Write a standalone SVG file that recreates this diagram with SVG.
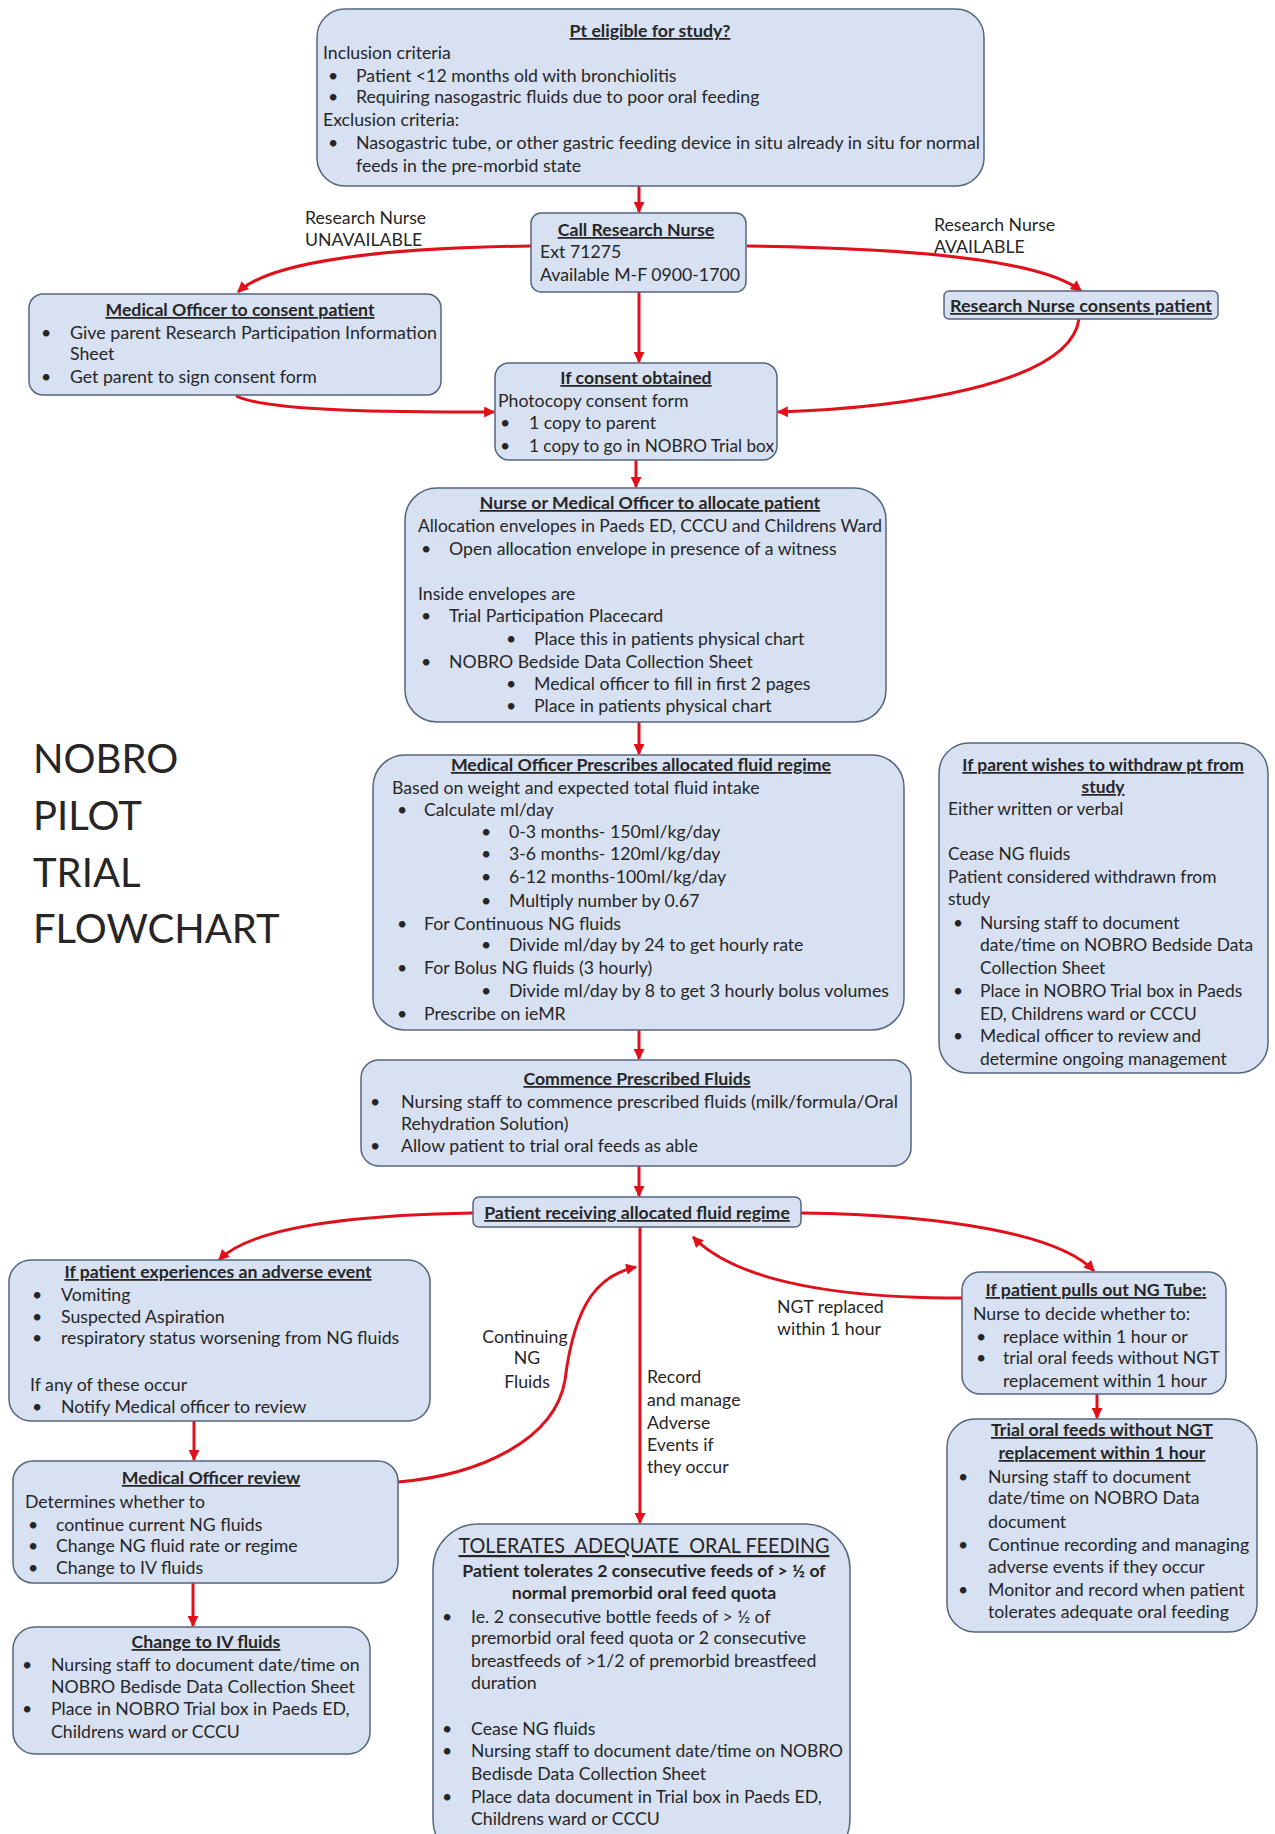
<svg xmlns="http://www.w3.org/2000/svg" width="1275" height="1834" viewBox="0 0 1275 1834">
<defs>
<marker id="ah" viewBox="0 0 10 10" refX="9" refY="5" markerWidth="13" markerHeight="11" markerUnits="userSpaceOnUse" orient="auto">
<path d="M0,0 L10,5 L0,10 z" fill="#e0111b"/>
</marker>
<style>
text{font-family:Lato,"Open Sans","Liberation Sans",sans-serif;font-size:17.7px;fill:#262626}
.h{font-weight:bold;text-decoration:underline;text-anchor:middle}
.m{text-anchor:middle}
.w text{font-size:17.4px}
.box{fill:#d7e1f2;stroke:#55667d;stroke-width:1.5}
.c{fill:none;stroke:#e0111b;stroke-width:3;marker-end:url(#ah)}
.big{font-size:40px}
</style>
</defs>
<rect width="1275" height="1834" fill="#ffffff"/>

<g id="connectors">
<path class="c" d="M639,186 L639,212"/>
<path class="c" d="M531,246 C380,248 270,262 238,292"/>
<path class="c" d="M747,246 C900,248 1040,258 1081,291"/>
<path class="c" d="M639,292 L639,362"/>
<path class="c" d="M236,396 C270,412 400,412 494,412"/>
<path class="c" d="M1079,319 C1070,385 900,408 778,412"/>
<path class="c" d="M636,460 L636,487"/>
<path class="c" d="M639,722 L639,754"/>
<path class="c" d="M639,1030 L639,1059"/>
<path class="c" d="M639,1166 L639,1196"/>
<path class="c" d="M473,1213 C350,1215 250,1228 219,1260"/>
<path class="c" d="M801,1213 C950,1215 1060,1235 1094,1271"/>
<path class="c" d="M962,1298 C850,1298 740,1285 693,1237"/>
<path class="c" d="M640,1227 L640,1523"/>
<path class="c" d="M194,1421 L194,1460"/>
<path class="c" d="M398,1482 C480,1475 555,1440 565,1380 C575,1300 600,1275 636,1267"/>
<path class="c" d="M193,1583 L193,1626"/>
<path class="c" d="M1097,1394 L1097,1418"/>
</g>

<g id="labels">
<text x="305" y="224">Research Nurse</text>
<text x="305" y="246">UNAVAILABLE</text>
<text x="934" y="231">Research Nurse</text>
<text x="934" y="253">AVAILABLE</text>
<text class="m" x="525" y="1343">Continuing</text>
<text class="m" x="527" y="1364">NG</text>
<text class="m" x="527" y="1388">Fluids</text>
<text x="647" y="1383">Record</text>
<text x="647" y="1406">and manage</text>
<text x="647" y="1429">Adverse</text>
<text x="647" y="1451">Events if</text>
<text x="647" y="1473">they occur</text>
<text x="777" y="1313">NGT replaced</text>
<text x="777" y="1335">within 1 hour</text>
</g>

<g id="title">
<text class="big" x="33" y="773">NOBRO</text>
<text class="big" x="33" y="830">PILOT</text>
<text class="big" x="33" y="887">TRIAL</text>
<text class="big" x="33" y="943">FLOWCHART</text>
</g>

<g id="eligible">
<rect class="box" x="317" y="9" width="667" height="177" rx="28"/>
<text class="h" x="650" y="37">Pt eligible for study?</text>
<text x="323" y="59">Inclusion criteria</text>
<text x="328" y="82">•</text><text x="356" y="82">Patient &lt;12 months old with bronchiolitis</text>
<text x="328" y="103">•</text><text x="356" y="103">Requiring nasogastric fluids due to poor oral feeding</text>
<text x="323" y="126">Exclusion criteria:</text>
<text x="328" y="149">•</text><text x="356" y="149" textLength="624" lengthAdjust="spacingAndGlyphs">Nasogastric tube, or other gastric feeding device in situ already in situ for normal</text>
<text x="356" y="172">feeds in the pre-morbid state</text>
</g>

<g id="call">
<rect class="box" x="531" y="213" width="215" height="79" rx="10"/>
<text class="h" x="636" y="236">Call Research Nurse</text>
<text x="540" y="258">Ext 71275</text>
<text x="540" y="281">Available M-F 0900-1700</text>
</g>

<g id="mo-consent">
<rect class="box" x="29" y="294" width="412" height="101" rx="14"/>
<text class="h" x="240" y="316">Medical Officer to consent patient</text>
<text x="41" y="339">•</text><text x="70" y="339" textLength="367" lengthAdjust="spacingAndGlyphs">Give parent Research Participation Information</text>
<text x="70" y="360">Sheet</text>
<text x="41" y="383">•</text><text x="70" y="383">Get parent to sign consent form</text>
</g>

<g id="rn-consent">
<rect class="box" x="944" y="291" width="274" height="28" rx="5"/>
<text class="h" x="1081" y="312" textLength="262" lengthAdjust="spacingAndGlyphs">Research Nurse consents patient</text>
</g>

<g id="consent">
<rect class="box" x="495" y="363" width="282" height="97" rx="14"/>
<text class="h" x="636" y="384">If consent obtained</text>
<text x="498" y="407">Photocopy consent form</text>
<text x="500" y="429">•</text><text x="529" y="429">1 copy to parent</text>
<text x="500" y="452">•</text><text x="529" y="452" textLength="245" lengthAdjust="spacingAndGlyphs">1 copy to go in NOBRO Trial box</text>
</g>

<g id="allocate">
<rect class="box" x="405" y="488" width="481" height="234" rx="32"/>
<text class="h" x="650" y="509">Nurse or Medical Officer to allocate patient</text>
<text x="418" y="532" textLength="464" lengthAdjust="spacingAndGlyphs">Allocation envelopes in Paeds ED, CCCU and Childrens Ward</text>
<text x="421" y="555">•</text><text x="449" y="555">Open allocation envelope in presence of a witness</text>
<text x="418" y="600">Inside envelopes are</text>
<text x="421" y="622">•</text><text x="449" y="622">Trial Participation Placecard</text>
<text x="506" y="645">•</text><text x="534" y="645">Place this in patients physical chart</text>
<text x="421" y="668">•</text><text x="449" y="668">NOBRO Bedside Data Collection Sheet</text>
<text x="506" y="690">•</text><text x="534" y="690">Medical officer to fill in first 2 pages</text>
<text x="506" y="712">•</text><text x="534" y="712">Place in patients physical chart</text>
</g>

<g id="prescribe">
<rect class="box" x="373" y="755" width="531" height="275" rx="32"/>
<text class="h" x="641" y="771">Medical Officer Prescribes allocated fluid regime</text>
<text x="392" y="794">Based on weight and expected total fluid intake</text>
<text x="397" y="816">•</text><text x="424" y="816">Calculate ml/day</text>
<text x="481" y="838">•</text><text x="509" y="838">0-3 months- 150ml/kg/day</text>
<text x="481" y="860">•</text><text x="509" y="860">3-6 months- 120ml/kg/day</text>
<text x="481" y="883">•</text><text x="509" y="883">6-12 months-100ml/kg/day</text>
<text x="481" y="907">•</text><text x="509" y="907">Multiply number by 0.67</text>
<text x="397" y="930">•</text><text x="424" y="930">For Continuous NG fluids</text>
<text x="481" y="951">•</text><text x="509" y="951">Divide ml/day by 24 to get hourly rate</text>
<text x="397" y="974">•</text><text x="424" y="974">For Bolus NG fluids (3 hourly)</text>
<text x="481" y="997">•</text><text x="509" y="997" textLength="380" lengthAdjust="spacingAndGlyphs">Divide ml/day by 8 to get 3 hourly bolus volumes</text>
<text x="397" y="1020">•</text><text x="424" y="1020">Prescribe on ieMR</text>
</g>

<g id="withdraw" class="w">
<rect class="box" x="939" y="743" width="329" height="330" rx="30"/>
<text class="h" x="1103" y="771">If parent wishes to withdraw pt from</text>
<text class="h" x="1103" y="793">study</text>
<text x="948" y="815">Either written or verbal</text>
<text x="948" y="860">Cease NG fluids</text>
<text x="948" y="883">Patient considered withdrawn from</text>
<text x="948" y="905">study</text>
<text x="953" y="929">•</text><text x="980" y="929">Nursing staff to document</text>
<text x="980" y="951">date/time on NOBRO Bedside Data</text>
<text x="980" y="974">Collection Sheet</text>
<text x="953" y="997">•</text><text x="980" y="997">Place in NOBRO Trial box in Paeds</text>
<text x="980" y="1020">ED, Childrens ward or CCCU</text>
<text x="953" y="1042">•</text><text x="980" y="1042">Medical officer to review and</text>
<text x="980" y="1065">determine ongoing management</text>
</g>

<g id="commence">
<rect class="box" x="361" y="1060" width="550" height="106" rx="18"/>
<text class="h" x="637" y="1085">Commence Prescribed Fluids</text>
<text x="370" y="1108">•</text><text x="401" y="1108" textLength="497" lengthAdjust="spacingAndGlyphs">Nursing staff to commence prescribed fluids (milk/formula/Oral</text>
<text x="401" y="1130">Rehydration Solution)</text>
<text x="370" y="1152">•</text><text x="401" y="1152">Allow patient to trial oral feeds as able</text>
</g>

<g id="receiving">
<rect class="box" x="473" y="1197" width="328" height="30" rx="6"/>
<text class="h" x="637" y="1219">Patient receiving allocated fluid regime</text>
</g>

<g id="adverse">
<rect class="box" x="9" y="1260" width="421" height="161" rx="22"/>
<text class="h" x="218" y="1278">If patient experiences an adverse event</text>
<text x="32" y="1301">•</text><text x="61" y="1301">Vomiting</text>
<text x="32" y="1323">•</text><text x="61" y="1323">Suspected Aspiration</text>
<text x="32" y="1344">•</text><text x="61" y="1344">respiratory status worsening from NG fluids</text>
<text x="30" y="1391">If any of these occur</text>
<text x="32" y="1413">•</text><text x="61" y="1413">Notify Medical officer to review</text>
</g>

<g id="mo-review">
<rect class="box" x="13" y="1461" width="385" height="122" rx="20"/>
<text class="h" x="211" y="1484">Medical Officer review</text>
<text x="25" y="1508">Determines whether to</text>
<text x="28" y="1531">•</text><text x="56" y="1531">continue current NG fluids</text>
<text x="28" y="1552">•</text><text x="56" y="1552">Change NG fluid rate or regime</text>
<text x="28" y="1574">•</text><text x="56" y="1574">Change to IV fluids</text>
</g>

<g id="iv">
<rect class="box" x="13" y="1627" width="357" height="127" rx="22"/>
<text class="h" x="206" y="1648">Change to IV fluids</text>
<text x="22" y="1671">•</text><text x="51" y="1671">Nursing staff to document date/time on</text>
<text x="51" y="1693">NOBRO Bedisde Data Collection Sheet</text>
<text x="22" y="1715">•</text><text x="51" y="1715">Place in NOBRO Trial box in Paeds ED,</text>
<text x="51" y="1738">Childrens ward or CCCU</text>
</g>

<g id="tolerates">
<rect class="box" x="433" y="1524" width="417" height="340" rx="45"/>
<text class="m" x="644" y="1553" style="font-size:22px;text-decoration:underline;white-space:pre" textLength="371" lengthAdjust="spacingAndGlyphs">TOLERATES  ADEQUATE  ORAL FEEDING</text>
<text class="m" x="644" y="1577" style="font-weight:bold">Patient tolerates 2 consecutive feeds of &gt; ½ of</text>
<text class="m" x="644" y="1599" style="font-weight:bold">normal premorbid oral feed quota</text>
<text x="442" y="1623">•</text><text x="471" y="1623">Ie. 2 consecutive bottle feeds of &gt; ½ of</text>
<text x="471" y="1644">premorbid oral feed quota or 2 consecutive</text>
<text x="471" y="1667">breastfeeds of &gt;1/2 of premorbid breastfeed</text>
<text x="471" y="1689">duration</text>
<text x="442" y="1735">•</text><text x="471" y="1735">Cease NG fluids</text>
<text x="442" y="1757">•</text><text x="471" y="1757" textLength="372" lengthAdjust="spacingAndGlyphs">Nursing staff to document date/time on NOBRO</text>
<text x="471" y="1780">Bedisde Data Collection Sheet</text>
<text x="442" y="1803">•</text><text x="471" y="1803">Place data document in Trial box in Paeds ED,</text>
<text x="471" y="1825">Childrens ward or CCCU</text>
</g>

<g id="pulls">
<rect class="box" x="962" y="1272" width="264" height="122" rx="18"/>
<text class="h" x="1096" y="1296">If patient pulls out NG Tube:</text>
<text x="973" y="1320">Nurse to decide whether to:</text>
<text x="976" y="1343">•</text><text x="1003" y="1343">replace within 1 hour or</text>
<text x="976" y="1364">•</text><text x="1003" y="1364">trial oral feeds without NGT</text>
<text x="1003" y="1387">replacement within 1 hour</text>
</g>

<g id="trial">
<rect class="box" x="947" y="1419" width="310" height="213" rx="28"/>
<text class="h" x="1102" y="1436">Trial oral feeds without NGT</text>
<text class="h" x="1102" y="1459">replacement within 1 hour</text>
<text x="958" y="1483">•</text><text x="988" y="1483">Nursing staff to document</text>
<text x="988" y="1504">date/time on NOBRO Data</text>
<text x="988" y="1528">document</text>
<text x="958" y="1551">•</text><text x="988" y="1551">Continue recording and managing</text>
<text x="988" y="1573">adverse events if they occur</text>
<text x="958" y="1596">•</text><text x="988" y="1596">Monitor and record when patient</text>
<text x="988" y="1618">tolerates adequate oral feeding</text>
</g>
</svg>
